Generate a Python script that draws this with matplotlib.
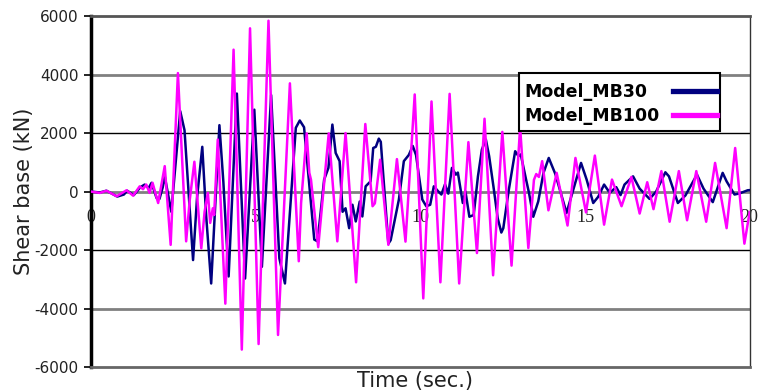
import matplotlib
matplotlib.use("Agg")
import matplotlib.pyplot as plt
from matplotlib.patches import Rectangle
from matplotlib.lines import Line2D

# time (s) / shear base (kN)
t_mb30 = [0.00, 0.27, 0.47, 0.80, 1.00, 1.10, 1.30, 1.50, 1.63, 1.75, 1.84, 1.99, 2.08, 2.18,
          2.24, 2.44, 2.71, 2.84, 3.10, 3.22, 3.38, 3.50, 3.65, 3.75, 3.90, 4.02, 4.18, 4.43,
          4.68, 4.96, 5.19, 5.47, 5.72, 5.89, 6.22, 6.34, 6.47, 6.78, 6.88, 7.08, 7.21, 7.33,
          7.43, 7.55, 7.64, 7.73, 7.84, 7.94, 8.04, 8.16, 8.24, 8.34, 8.49, 8.57, 8.65, 8.74,
          8.80, 8.90, 9.03, 9.10, 9.35, 9.50, 9.65, 9.77, 9.87, 10.06, 10.18, 10.30, 10.41,
          10.55, 10.64, 10.75, 10.85, 10.96, 11.08, 11.14, 11.29, 11.37, 11.49, 11.62, 11.75,
          11.87, 11.99, 12.09, 12.22, 12.35, 12.46, 12.52, 12.68, 12.88, 12.98, 13.05, 13.20,
          13.30, 13.43, 13.58, 13.74, 13.90, 14.10, 14.44, 14.88, 15.05, 15.25, 15.40, 15.58,
          15.75, 15.95, 16.08, 16.20, 16.46, 16.66, 16.96, 17.16, 17.44, 17.55, 17.82, 18.05,
          18.40, 18.60, 18.88, 19.18, 19.30, 19.54, 19.70, 19.94, 20.00]
v_mb30 = [0, -30, 30, -170, -100, 30, -120, 150, 240, 120, 300, -215, -250, 150,
          520, -690, 2750, 2100, -2340, -220, 1530, -860, -3140, -975, 2270, 330, -2900, 3350,
          -2970, 2800, -2570, 3300, -2280, -3140, 2180, 2430, 2200, -1640, -1700, 410, 810, 2290,
          1320, 1040, -690, -570, -1250, -450, -1020, -340, -850, 180, 350, 1490, 1530, 1810,
          1700, 180, -1780, -1660, -270, 1040, 1250, 1560, 1250, -270, -500, -450, 180,
          0, -100, 250, -70, 810, 580, 650, -390, 10, -860, -800, 520,
          1440, 1780, 1210, 180, -910, -1400, -1250, 10, 1380, 1210, 1270, 470,
          -45, -860, -340, 640, 1150, 600, -730, 980, 410, -390, -180, 240,
          -40, 150, -120, 240, 520, 100, -250, 0, 660, 520, -390, -130,
          580, 100, -360, 640, 350, -100, -60, 45, 50]

t_mb100 = [0.00, 0.27, 0.47, 0.78, 1.08, 1.28, 1.48, 1.58, 1.68, 1.78, 1.87, 2.04, 2.24, 2.42,
           2.64, 2.89, 3.00, 3.14, 3.35, 3.45, 3.55, 3.62, 3.70, 3.74, 3.85, 4.08, 4.33, 4.58,
           4.83, 5.09, 5.39, 5.68, 6.04, 6.31, 6.38, 6.55, 6.63, 6.68, 6.90, 7.22, 7.48, 7.73,
           8.05, 8.33, 8.55, 8.62, 8.78, 9.03, 9.29, 9.55, 9.83, 10.09, 10.34, 10.61, 10.89,
           11.18, 11.46, 11.72, 11.95, 12.21, 12.49, 12.77, 13.03, 13.28, 13.45, 13.52, 13.60,
           13.70, 13.89, 14.14, 14.47, 14.71, 15.03, 15.30, 15.58, 15.82, 16.11, 16.41, 16.66,
           16.89, 17.08, 17.32, 17.57, 17.85, 18.10, 18.38, 18.68, 18.95, 19.30, 19.56, 19.84,
           20.00]
v_mb100 = [0, -45, 30, -160, 45, -140, 180, 80, 240, -45, 300, -390, 870, -1820,
           4050, -1700, -280, 1020, -1940, -690, -45, -1070, -570, -800, 1780, -3830, 4850, -5400,
           5580, -5210, 5840, -4900, 3700, -2380, -390, 1990, 640, 410, -1900, 1990, -1700, 2000,
           -3100, 2310, -500, -400, 1090, -1820, 1110, -1710, 3320, -3650, 3080, -3100, 3340,
           -3140, 1690, -2100, 2490, -2860, 2040, -2530, 2200, -1930, 400, 600, 500,
           1040, -640, 640, -1160, 1150, -710, 1230, -1130, 410, -500, 500, -750,
           320, -600, 700, -1030, 700, -980, 700, -1030, 980, -1250, 1490, -1780,
           -700]

series_names = ['Model_MB30', 'Model_MB100']
series_colors = ['#000080', '#FF00FF']
y_ticks = [-6000, -4000, -2000, 0, 2000, 4000, 6000]
x_ticks = [0, 5, 10, 15, 20]

fig = plt.figure(figsize=(7.58, 3.91), dpi=100)
ax = fig.add_axes([0.12, 0.061, 0.869, 0.898])

# horizontal grid: gray thick at 0 / +-4000, black thin at +-2000
for y in y_ticks[1:-1]:
    if y % 4000 == 0:
        ax.axhline(y, color='#808080', lw=2.0, zorder=1)
    else:
        ax.axhline(y, color='black', lw=1.0, zorder=1)

ax.plot(t_mb30, v_mb30, color=series_colors[0], lw=1.8, zorder=3)
ax.plot(t_mb100, v_mb100, color=series_colors[1], lw=1.8, zorder=3)

ax.set_xlim(0, 20)
ax.set_ylim(-6000, 6000)
ax.set_yticks(y_ticks)
ax.set_yticklabels([str(y) for y in y_ticks], fontsize=11, color='#222222')
ax.tick_params(axis='y', direction='out', length=5, width=1.2, pad=4)
ax.set_xticks([])

# x tick labels sit just under the zero line
for x in x_ticks:
    ax.text(x, -600, str(x), ha='center', va='top', fontsize=13,
            family='Liberation Serif', color='#222222', zorder=2, clip_on=False)

ax.spines['left'].set_linewidth(2.5)
ax.spines['top'].set_color('#555555')
ax.spines['top'].set_linewidth(2.0)
ax.spines['bottom'].set_color('#666666')
ax.spines['bottom'].set_linewidth(2.0)
ax.spines['right'].set_color('#333333')
ax.spines['right'].set_linewidth(1.0)

ax.set_ylabel('Shear base (kN)', fontsize=15, color='#222222', labelpad=0)
fig.text(0.548, 0.025, 'Time (sec.)', ha='center', va='center', fontsize=15, color='#222222')

# legend box: labels left, line samples right (axes coords)
box = Rectangle((0.650, 0.672), 0.305, 0.165, transform=ax.transAxes, facecolor='white',
                edgecolor='black', lw=1.5, zorder=5)
ax.add_patch(box)
for i, (name, col) in enumerate(zip(series_names, series_colors)):
    yt = 0.783 - i * 0.068
    ax.text(0.658, yt, name, transform=ax.transAxes, ha='left', va='center',
            fontsize=12.5, fontweight='bold', color='black', zorder=6)
    ax.add_line(Line2D([0.884, 0.950], [yt + 0.004, yt + 0.004], transform=ax.transAxes,
                       color=col, lw=3.8, zorder=6))

fig.savefig('out.png', dpi=100)
